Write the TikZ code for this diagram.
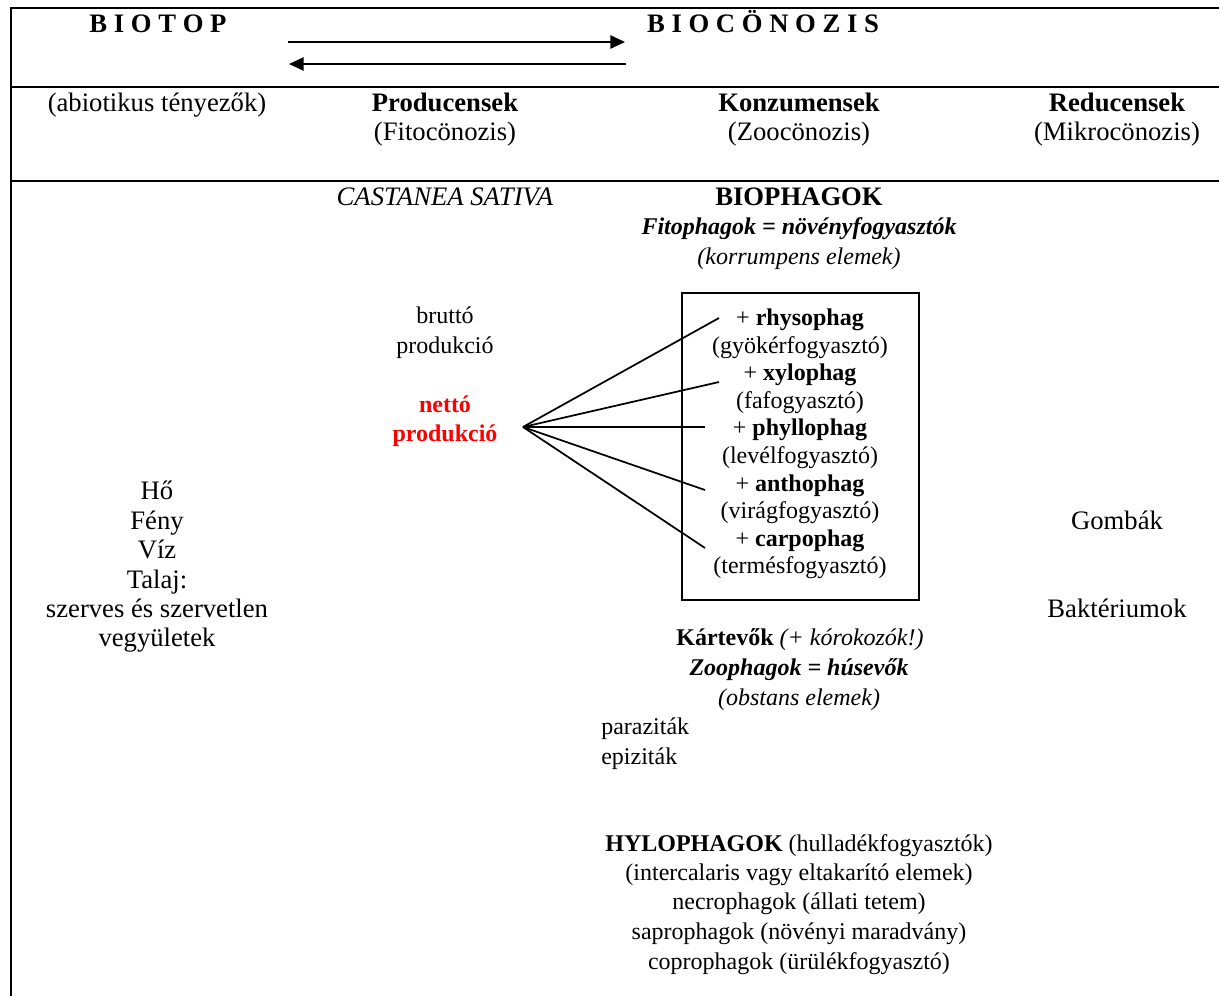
\documentclass[tikz,border=0pt]{standalone}
\usepackage{fontspec}
\setmainfont{Liberation Serif}
\usetikzlibrary{arrows.meta}
\begin{document}
\begin{tikzpicture}[x=0.75pt,y=-0.75pt,
  txt/.style={anchor=base,inner sep=0pt,font=\fontsize{20}{22}\selectfont},
  stxt/.style={anchor=base,inner sep=0pt,font=\fontsize{18}{20}\selectfont},
  sltxt/.style={anchor=base west,inner sep=0pt,font=\fontsize{18}{20}\selectfont},
  frame/.style={line width=1.3pt},
  fan/.style={line width=1.3pt},
  flow/.style={line width=1.2pt,-{Triangle[length=11pt,width=10pt]}}]
\useasboundingbox (0,0) rectangle (1219,996);
% frame
\draw[frame] (1219,8) -- (11,8) -- (11,996);
\draw[frame] (11,87) -- (1219,87);
\draw[frame] (11,181) -- (1219,181);
% titles
\node[txt] (biotop) at (158,32) {\textbf{B I O T O P}};
\node[txt] (biocon) at (763,32) {\textbf{B I O C Ö N O Z I S}};
\coordinate (a1s) at (288,42); \coordinate (a1e) at (625,42);
\coordinate (a2s) at (626,64); \coordinate (a2e) at (289,64);
\draw[flow] (a1s) -- (a1e);
\draw[flow] (a2s) -- (a2e);
% header row
\node[txt] (abio) at (157,111) {(abiotikus tényezők)};
\node[txt] (prod) at (445,111) {\textbf{Producensek}};
\node[txt] (fito) at (445,140) {(Fitocönozis)};
\node[txt] (konz) at (799,111) {\textbf{Konzumensek}};
\node[txt] (zoo) at (799,140) {(Zoocönozis)};
\node[txt] (red) at (1117,111) {\textbf{Reducensek}};
\node[txt] (mikro) at (1117,140) {(Mikrocönozis)};
% producers column
\node[txt] (cast) at (445,205) {\textit{CASTANEA SATIVA}};
\node[stxt] (brutto1) at (445,323) {bruttó};
\node[stxt] (brutto2) at (445,353) {produkció};
\node[stxt,text=red] (netto1) at (445,412) {\textbf{nettó}};
\node[stxt,text=red] (netto2) at (445,441) {\textbf{produkció}};
% consumers column
\node[txt] (bioph) at (799,205) {\textbf{BIOPHAGOK}};
\node[stxt] (fitoph) at (799,234) {\textbf{\textit{Fitophagok = növényfogyasztók}}};
\node[stxt] (korr) at (799,264) {\textit{(korrumpens elemek)}};
\node[draw,line width=1.2pt,minimum width=237*0.75pt,minimum height=307*0.75pt,inner sep=0pt,anchor=north west] (box) at (681,292) {};
\node[stxt] (rhy) at (800,325) {+ \textbf{rhysophag}};
\node[stxt] (rhyd) at (800,353) {(gyökérfogyasztó)};
\node[stxt] (xyl) at (800,380) {+ \textbf{xylophag}};
\node[stxt] (xyld) at (800,408) {(fafogyasztó)};
\node[stxt] (phy) at (800,435) {+ \textbf{phyllophag}};
\node[stxt] (phyd) at (800,463) {(levélfogyasztó)};
\node[stxt] (ant) at (800,491) {+ \textbf{anthophag}};
\node[stxt] (antd) at (800,518) {(virágfogyasztó)};
\node[stxt] (car) at (800,546) {+ \textbf{carpophag}};
\node[stxt] (card) at (800,573) {(termésfogyasztó)};
\coordinate (apex) at (523,427);
\coordinate (e1) at (719,318);
\coordinate (e2) at (719,382);
\coordinate (e3) at (705,427);
\coordinate (e4) at (705,490);
\coordinate (e5) at (705,548);
\foreach \e in {e1,e2,e3,e4,e5} \draw[fan] (apex) -- (\e);
\node[stxt] (kart) at (800,645) {\textbf{Kártevők} \textit{(+ kórokozók!)}};
\node[stxt] (zooph) at (799,675) {\textbf{\textit{Zoophagok = húsevők}}};
\node[stxt] (obst) at (799,705) {\textit{(obstans elemek)}};
\node[sltxt] (para) at (601,734) {paraziták};
\node[sltxt] (epi) at (601,764) {epiziták};
\node[stxt] (hylo) at (799,851) {\textbf{HYLOPHAGOK} (hulladékfogyasztók)};
\node[stxt] (inter) at (799,880) {(intercalaris vagy eltakarító elemek)};
\node[stxt] (necro) at (799,909) {necrophagok (állati tetem)};
\node[stxt] (sapro) at (799,939) {saprophagok (növényi maradvány)};
\node[stxt] (copro) at (799,969) {coprophagok (ürülékfogyasztó)};
% biotope column
\node[txt] (ho) at (157,499) {Hő};
\node[txt] (feny) at (157,529) {Fény};
\node[txt] (viz) at (157,558) {Víz};
\node[txt] (talaj) at (157,588) {Talaj:};
\node[txt] (szerv) at (157,617) {szerves és szervetlen};
\node[txt] (vegy) at (157,646) {vegyületek};
% reducers column
\node[txt] (gomb) at (1117,529) {Gombák};
\node[txt] (bakt) at (1117,617) {Baktériumok};
\end{tikzpicture}
\end{document}
